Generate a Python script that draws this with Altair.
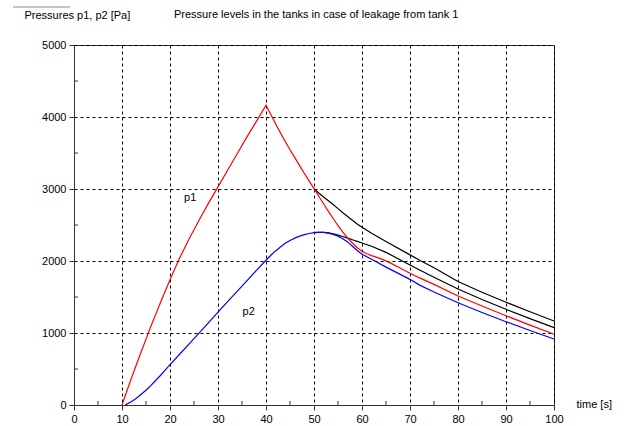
import altair as alt
import pandas as pd

# ---- data ----
t_p1 = [10, 11, 12, 13, 14, 15, 16, 17, 18, 19, 20, 22, 24, 26, 28, 30, 32, 34, 36, 38, 40,
        41, 42, 43, 44, 45, 46, 47, 48, 49, 50,
        51, 52, 53, 54, 55, 56, 57, 58, 59, 60, 61, 62, 64, 66, 68, 70, 72, 75, 80, 85, 90, 95, 100]
p1 = [0, 190, 380, 560, 740, 915, 1090, 1255, 1420, 1580, 1740, 2040, 2310, 2560, 2800, 3030,
      3260, 3490, 3720, 3940, 4165,
      4035, 3905, 3780, 3660, 3545, 3435, 3325, 3215, 3110, 3005,
      2900, 2795, 2690, 2590, 2490, 2400, 2320, 2250, 2185, 2135, 2100, 2075, 2030, 1970, 1900,
      1830, 1765, 1675, 1514, 1375, 1240, 1110, 982]

t_p2 = [10.7, 11, 12, 13, 14, 15, 16, 17, 18, 19, 20, 22, 24, 26, 28, 30, 32, 35, 38, 40,
        41, 42, 43, 44, 45, 46, 47, 48, 49, 50, 51, 52, 53, 54, 55, 56, 57, 58, 59, 60,
        62, 65, 70, 72, 75, 80, 85, 90, 95, 100]
p2 = [0, 12, 50, 95, 150, 205, 270, 340, 410, 485, 560, 705, 850, 995, 1140, 1290, 1435, 1650,
      1870, 2010,
      2080, 2140, 2195, 2245, 2285, 2318, 2345, 2366, 2382, 2393, 2398, 2397, 2388, 2370,
      2345, 2310, 2265, 2205, 2145, 2095,
      2025, 1915, 1745, 1665, 1570, 1421, 1285, 1157, 1035, 917]

t_b1 = [50, 51, 52, 53, 54, 55, 56, 57, 58, 59, 60, 62, 65, 70, 72, 75, 80, 85, 90, 95, 100]
b1 = [3005, 2945, 2890, 2837, 2785, 2727, 2670, 2617, 2565, 2515, 2468, 2385, 2270, 2085,
      2010, 1905, 1715, 1565, 1428, 1295, 1167]

t_b2 = [50, 51, 52, 53, 54, 55, 56, 57, 58, 59, 60, 62, 65, 70, 72, 75, 80, 85, 90, 95, 100]
b2 = [2393, 2398, 2397, 2390, 2378, 2360, 2340, 2318, 2295, 2272, 2250, 2205, 2120, 1945,
      1875, 1775, 1611, 1465, 1329, 1200, 1074]

label_text = ["p1", "p2"]
label_t = [24.2, 36.4]
label_p = [2875, 1285]

title_text = "Pressure levels in the tanks in case of leakage from tank 1"

x_major = [0, 10, 20, 30, 40, 50, 60, 70, 80, 90, 100]
x_minor = [5, 15, 25, 35, 45, 55, 65, 75, 85, 95]
y_major = [0, 1000, 2000, 3000, 4000, 5000]
y_minor = [500, 1500, 2500, 3500, 4500]

FONT = "Liberation Sans"
AX = "#333333"


def frame(ts, vs, name):
    return pd.DataFrame({"t": ts, "p": vs, "series": name})


colored = pd.concat([frame(t_p1, p1, "p1"), frame(t_p2, p2, "p2")])
black = pd.concat([frame(t_b1, b1, "b1"), frame(t_b2, b2, "b2")])
labels = pd.DataFrame({"t": label_t, "p": label_p, "txt": label_text})

xs = alt.Scale(domain=[0, 100], nice=False)
ys = alt.Scale(domain=[0, 5000], nice=False)

common_axis = dict(grid=True, gridDash=[3, 3], gridColor="black", gridOpacity=1,
                   gridWidth=1, domainColor=AX, tickColor=AX, tickSize=5,
                   labelFont=FONT, labelFontSize=11, labelColor="black",
                   labelPadding=3, format="d", titleFontWeight="normal",
                   titleFont=FONT, titleFontSize=11, titleColor="black")

x_axis = alt.Axis(values=x_major, title="time [s]", titleX=502, titleY=-1,
                  titleAlign="left", titleBaseline="middle", labelFlush=False,
                  **common_axis)
y_axis = alt.Axis(values=y_major, title="Pressures p1, p2 [Pa]", titleAngle=0,
                  titleX=-50, titleY=-27, titleAlign="left", titleBaseline="alphabetic",
                  **common_axis)

black_lines = alt.Chart(black).mark_line(color="black", strokeWidth=1.2).encode(
    x=alt.X("t:Q", scale=xs, axis=x_axis),
    y=alt.Y("p:Q", scale=ys, axis=y_axis),
    detail="series:N",
    order="t:Q",
)

col_lines = alt.Chart(colored).mark_line(strokeWidth=1.2).encode(
    x=alt.X("t:Q", scale=xs),
    y=alt.Y("p:Q", scale=ys),
    color=alt.Color("series:N", scale=alt.Scale(domain=["p1", "p2"], range=["#ff0000", "#0000ff"]),
                    legend=None),
    order="t:Q",
)

text = alt.Chart(labels).mark_text(font=FONT, fontSize=11, color="black").encode(
    x=alt.X("t:Q", scale=xs), y=alt.Y("p:Q", scale=ys), text="txt:N"
)

minor_y = alt.Chart(pd.DataFrame({"v": y_minor})).mark_rule(color=AX).encode(
    y=alt.Y("v:Q", scale=ys), x=alt.value(0), x2=alt.value(4)
)
minor_x = alt.Chart(pd.DataFrame({"v": x_minor})).mark_rule(color=AX).encode(
    x=alt.X("v:Q", scale=xs), y=alt.value(360), y2=alt.value(356)
)
deco = alt.Chart(pd.DataFrame({"a": [0]})).mark_rule(color="#888888").encode(
    x=alt.value(-61), x2=alt.value(-4), y=alt.value(-38)
)
title = alt.Chart(pd.DataFrame({"txt": [title_text]})).mark_text(
    font=FONT, fontSize=11, color="black", align="left", baseline="alphabetic"
).encode(x=alt.value(100), y=alt.value(-27), text="txt:N")

chart = alt.layer(black_lines, col_lines, text, minor_y, minor_x, deco, title).properties(
    width=480, height=360,
    autosize=alt.AutoSizeParams(type="none"),
    padding={"left": 74, "top": 45, "right": 74, "bottom": 21},
    background="white",
).configure_view(stroke=AX, strokeWidth=1)

chart.save("out.html", embed_options={"renderer": "svg", "actions": False})
